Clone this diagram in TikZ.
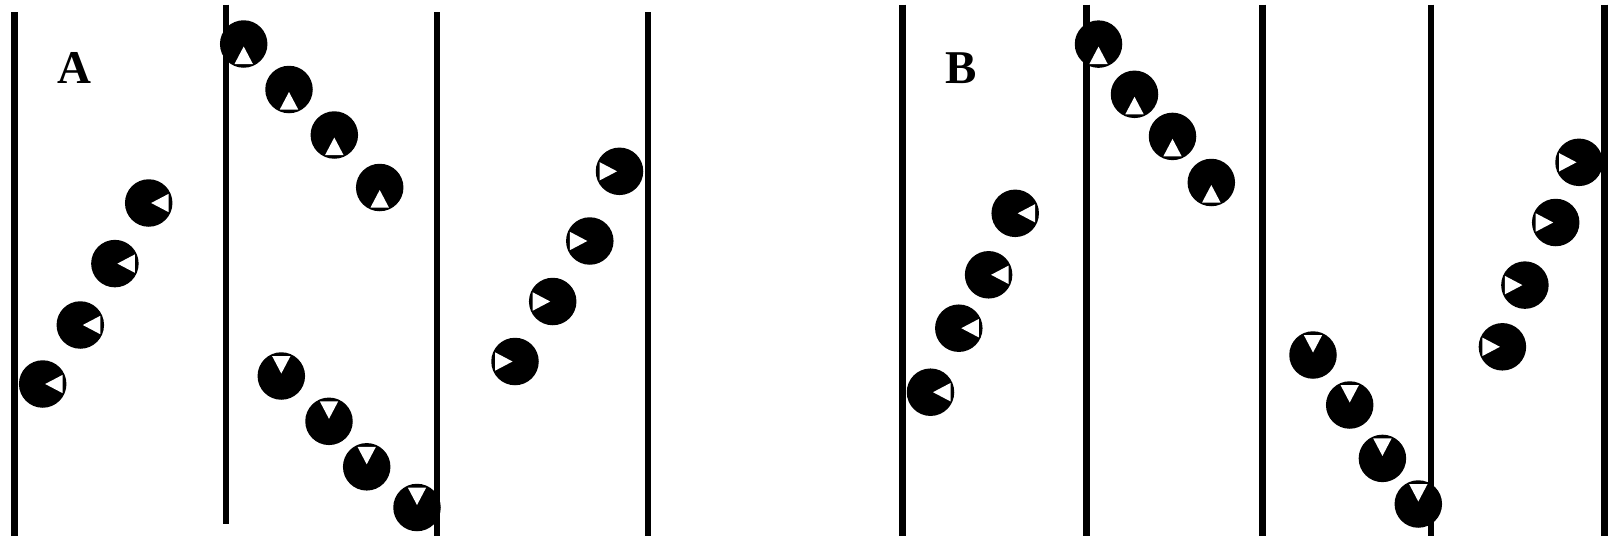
\documentclass[tikz,border=0pt]{standalone}
\usepackage{fontspec}
\setmainfont{Liberation Serif}
\usetikzlibrary{calc}
\tikzset{
  wall/.style={line width=6.8pt, line cap=butt},
  ball/.style={circle, fill=black, inner sep=0pt, minimum size=47.5pt},
  panellabel/.style={font=\fontsize{47}{47}\selectfont\bfseries, inner sep=0pt},
}
% #1 name, #2 x, #3 y, #4 direction (polar angle, y downwards) of the triangle's base
\newcommand{\ballmark}[4]{%
  \node[ball] (#1) at (#2,#3) {};
  \fill[white] ($(#1.center)+(#4:2.5)$) -- ($(#1.center)+(#4:20)+(#4+90:9.2)$) -- ($(#1.center)+(#4:20)+(#4-90:9.2)$) -- cycle;
}
\begin{document}
\begin{tikzpicture}[x=1pt,y=-1pt]
\useasboundingbox (0,0) rectangle (1608,536);
% walls, panel A
\draw[wall] (14.7,12.3) -- (14.7,536);
\draw[wall] (226,4.7) -- (226,524);
\draw[wall] (437,12.3) -- (437,536);
\draw[wall] (648,12.3) -- (648,536);
% walls, panel B
\draw[wall] (902.7,4.7) -- (902.7,536);
\draw[wall] (1086.7,4.7) -- (1086.7,536);
\draw[wall] (1262.7,4.7) -- (1262.7,536);
\draw[wall] (1431,4.7) -- (1431,536);
\draw[wall] (1604.5,4.7) -- (1604.5,536);
% labels
\node[panellabel] (labA) at (74,67.5) {A};
\node[panellabel] (labB) at (961.5,68) {B};
% panel A: left-pointing
\ballmark{a1}{148.7}{203}{0}
\ballmark{a2}{114.9}{263.6}{0}
\ballmark{a3}{80.3}{325}{0}
\ballmark{a4}{42.7}{384}{0}
% panel A: up-pointing
\ballmark{a5}{243.7}{44}{90}
\ballmark{a6}{289}{89.5}{90}
\ballmark{a7}{334.3}{135}{90}
\ballmark{a8}{379.7}{187.5}{90}
% panel A: down-pointing
\ballmark{a9}{281.3}{376}{270}
\ballmark{a10}{329}{421.3}{270}
\ballmark{a11}{366.7}{466.8}{270}
\ballmark{a12}{417}{507.5}{270}
% panel A: right-pointing
\ballmark{a13}{619.5}{171.3}{180}
\ballmark{a14}{589.8}{241}{180}
\ballmark{a15}{552.7}{301.5}{180}
\ballmark{a16}{515}{361.5}{180}
% panel B: left-pointing
\ballmark{b1}{1015.2}{213.3}{0}
\ballmark{b2}{988.6}{274.8}{0}
\ballmark{b3}{958.8}{328.2}{0}
\ballmark{b4}{930.5}{392.2}{0}
% panel B: up-pointing
\ballmark{b5}{1098.5}{44.1}{90}
\ballmark{b6}{1134.5}{94.3}{90}
\ballmark{b7}{1172.5}{136.4}{90}
\ballmark{b8}{1211.3}{182.5}{90}
% panel B: down-pointing
\ballmark{b9}{1313}{355}{270}
\ballmark{b10}{1349.7}{405}{270}
\ballmark{b11}{1382.4}{458.4}{270}
\ballmark{b12}{1418.3}{504}{270}
% panel B: right-pointing
\ballmark{b13}{1579}{162.3}{180}
\ballmark{b14}{1555.7}{222.5}{180}
\ballmark{b15}{1524.9}{285.1}{180}
\ballmark{b16}{1502.4}{346.8}{180}
\end{tikzpicture}
\end{document}
